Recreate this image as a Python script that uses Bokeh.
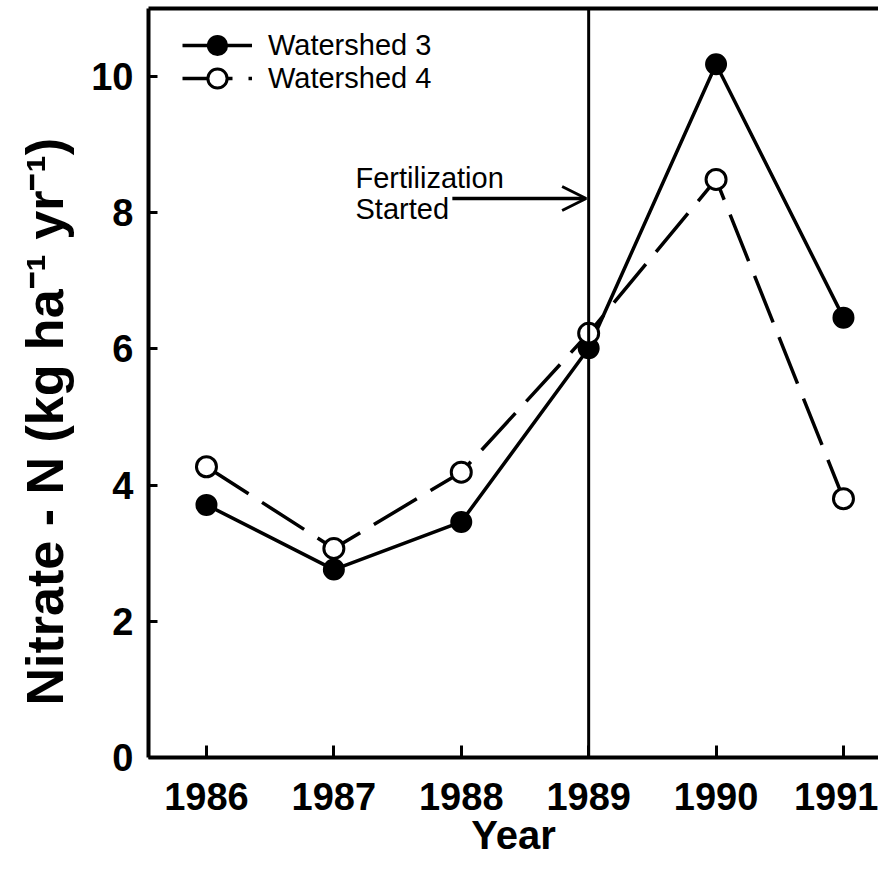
from bokeh.plotting import figure
from bokeh.models import Range1d, Span, Arrow, OpenHead, Label, Legend, LegendItem, LinearAxis, FixedTicker, Title
from bokeh.embed import file_html
from bokeh.resources import INLINE

years = [1986, 1987, 1988, 1989, 1990, 1991]
ws3 = [3.71, 2.76, 3.46, 6.01, 10.18, 6.46]
ws4 = [4.27, 3.07, 4.19, 6.23, 8.49, 3.80]
y_ticks = [0, 2, 4, 6, 8, 10]
fert_year = 1989
arrow_start = 1987.93
arrow_y = 8.21
FONT = "Liberation Sans"

p = figure(width=878, height=859, output_backend="svg", toolbar_location=None,
           x_range=Range1d(1985.545, 1991.275), y_range=Range1d(0, 11.0),
           min_border_left=147, min_border_right=0, min_border_top=8, min_border_bottom=0)
p.outline_line_color = None
p.grid.visible = False
p.background_fill_color = "white"
p.border_fill_color = "white"

# axes
for ax in [p.xaxis[0], p.yaxis[0]]:
    ax.axis_line_width = 4
    ax.axis_line_color = "black"
    ax.major_tick_line_width = 3
    ax.major_tick_out = 0
    ax.minor_tick_line_color = None
    ax.major_label_text_font = FONT
    ax.major_label_text_font_style = "bold"
    ax.major_label_text_color = "black"
    ax.axis_label_text_font = FONT
    ax.axis_label_text_font_style = "bold"
    ax.axis_label_text_color = "black"

p.xaxis.ticker = FixedTicker(ticks=years)
p.xaxis.major_tick_in = 12
p.xaxis.major_label_text_font_size = "38px"
p.xaxis.major_label_standoff = 25
p.xaxis.axis_label = "Year"
p.xaxis.axis_label_text_font_size = "40px"
p.xaxis.axis_label_standoff = 0

p.yaxis.ticker = FixedTicker(ticks=y_ticks)
p.yaxis.major_tick_in = 9
p.yaxis.major_label_text_font_size = "38px"
p.yaxis.major_label_standoff = 15

# y-axis title: a side title, so it can sit lower than the frame centre as in the reference
p.add_layout(Title(text="Nitrate - N (kg ha\u207b\u00b9 yr\u207b\u00b9)", align="left", offset=52,
                   vertical_align="middle", standoff=28,
                   text_font=FONT, text_font_style="bold", text_font_size="52px",
                   text_color="black"), "left")

top = LinearAxis(ticker=FixedTicker(ticks=years), axis_line_width=4, axis_line_color="black",
                 major_tick_line_color=None, minor_tick_line_color=None,
                 major_label_text_color=None, major_label_text_font_size="1px",
                 major_label_standoff=0)
p.add_layout(top, "above")

# fertilization marker
p.add_layout(Span(location=fert_year, dimension="height", line_color="black", line_width=3))
p.add_layout(Arrow(end=OpenHead(size=24, line_width=3, line_color="black"),
                   x_start=arrow_start, y_start=arrow_y, x_end=fert_year - 0.02, y_end=arrow_y,
                   line_width=3.5, line_color="black"))
p.add_layout(Label(x=1987.17, y=arrow_y + 0.3, text="Fertilization",
                   text_font=FONT, text_font_size="29px", text_color="black",
                   text_baseline="middle"))
p.add_layout(Label(x=1987.17, y=arrow_y - 0.15, text="Started",
                   text_font=FONT, text_font_size="29px", text_color="black",
                   text_baseline="middle"))

# series
l3 = p.line(years, ws3, line_color="black", line_width=3.5)
c3 = p.scatter(years, ws3, size=20, fill_color="black", line_color="black", line_width=2)
l4 = p.line(years, ws4, line_color="black", line_width=3.5, line_dash="50 16")
c4 = p.scatter(years, ws4, size=20, fill_color="white", line_color="black", line_width=3)

legend_style = dict(border_line_color=None, background_fill_alpha=0, glyph_width=70,
                    glyph_height=48, spacing=0, label_text_font=FONT,
                    label_text_font_size="29px", label_text_color="black", margin=0,
                    padding=0, label_standoff=16)
p.add_layout(Legend(items=[LegendItem(label="Watershed 3", renderers=[l3, c3])],
                    location=(34, 688), **legend_style))
p.add_layout(Legend(items=[LegendItem(label="Watershed 4", renderers=[l4, c4])],
                    location=(34, 655), **legend_style))

open("out.html", "w").write(file_html(p, INLINE))
